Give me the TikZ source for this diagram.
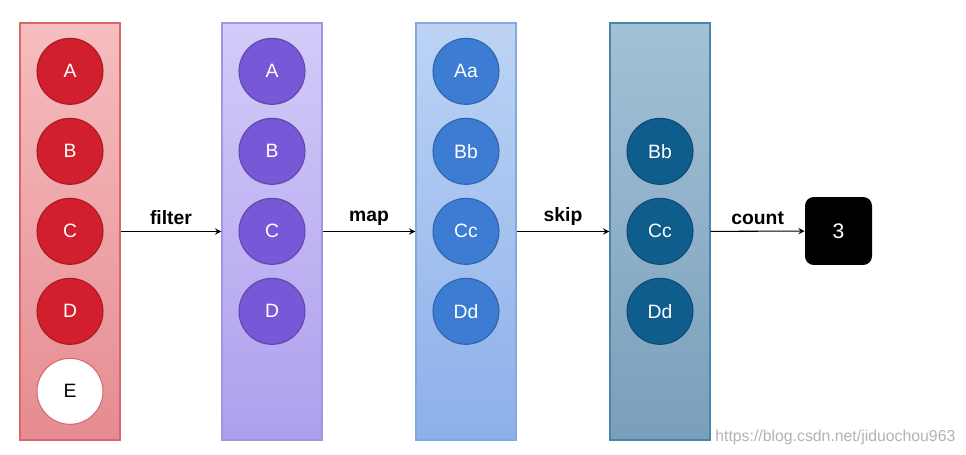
\documentclass[tikz,border=0pt]{standalone}
\usepackage{fontspec}
\setmainfont{Liberation Sans}
\usetikzlibrary{positioning, calc}

\definecolor{redtop}{HTML}{F6BDBF}
\definecolor{redbot}{HTML}{E58C90}
\definecolor{redline}{HTML}{D8676D}
\definecolor{redball}{HTML}{D11F2E}
\definecolor{purtop}{HTML}{D3CBF9}
\definecolor{purbot}{HTML}{AE9FEC}
\definecolor{purline}{HTML}{A495E2}
\definecolor{purball}{HTML}{7758D6}
\definecolor{blutop}{HTML}{BCD3F4}
\definecolor{blubot}{HTML}{8DB0EA}
\definecolor{bluline}{HTML}{86A9DD}
\definecolor{bluball}{HTML}{3C7CD3}
\definecolor{teatop}{HTML}{A3C1D6}
\definecolor{teabot}{HTML}{7A9FBB}
\definecolor{tealine}{HTML}{4D84AB}
\definecolor{teaball}{HTML}{0E5D8D}

\begin{document}
\begin{tikzpicture}[x=0.02cm, y=-0.02cm]
  \tikzset{ptr/.style={->, >=stealth, semithick}}
  \tikzset{stage/.style={draw, line width=0.8pt, minimum width=2cm, minimum height=8.34cm, inner sep=0pt}}
  \tikzset{elem/.style={circle, draw, line width=0.6pt, minimum size=1.32cm, inner sep=0pt, text=white, font=\fontsize{11}{13}\selectfont}}
  \tikzset{oplbl/.style={above, font=\bfseries\fontsize{11}{13}\selectfont}}

  \tikzset{elemred/.style={elem, fill=redball, draw=redball!80!black}}
  \tikzset{elempur/.style={elem, fill=purball, draw=purball!80!black}}
  \tikzset{elemblu/.style={elem, fill=bluball, draw=bluball!80!black}}
  \tikzset{elemtea/.style={elem, fill=teaball, draw=teaball!80!black}}

  \useasboundingbox (0,0) rectangle (966,455);

  % stages
  \node[stage, top color=redtop, bottom color=redbot, draw=redline] at (70,231.5) (s1) {};
  \node[stage, top color=purtop, bottom color=purbot, draw=purline] at (272,231.5) (s2) {};
  \node[stage, top color=blutop, bottom color=blubot, draw=bluline] at (466,231.5) (s3) {};
  \node[stage, top color=teatop, bottom color=teabot, draw=tealine] at (660,231.5) (s4) {};

  \foreach \lb [count=\i from 0] in {A, B, C, D}{
    \node[elemred] at ($(s1.north)+(0,49+80*\i)$) (s1-\lb) {\lb};
  }
  \node[elem, fill=white, draw=redline, text=black] at ($(s1.north)+(0,369)$) (s1-E) {E};

  \foreach \lb [count=\i from 0] in {A, B, C, D}{
    \node[elempur] at ($(s2.north)+(0,49+80*\i)$) (s2-\lb) {\lb};
  }

  \foreach \lb [count=\i from 0] in {Aa, Bb, Cc, Dd}{
    \node[elemblu] at ($(s3.north)+(0,49+80*\i)$) (s3-\lb) {\lb};
  }

  \foreach \lb [count=\i from 1] in {Bb, Cc, Dd}{
    \node[elemtea] at ($(s4.north)+(0,49+80*\i)$) (s4-\lb) {\lb};
  }

  % result
  \node[fill=black, rounded corners=5pt, minimum width=1.34cm, minimum height=1.36cm, text=white,
        font=\fontsize{12}{14}\selectfont] at (838.5,231) (res) {3};

  \draw[ptr] (s1) -- node[oplbl] {filter} (s2);
  \draw[ptr] (s2) -- node[oplbl] {map} (s3);
  \draw[ptr] (s3) -- node[oplbl] {skip} (s4);
  \draw[ptr] (s4) -- node[oplbl] {count} (res);

  \node[anchor=west, text=black!30, font=\fontsize{9}{11}\selectfont, inner sep=0pt] at (715,437) (wm) {https://blog.csdn.net/jiduochou963};
\end{tikzpicture}
\end{document}
